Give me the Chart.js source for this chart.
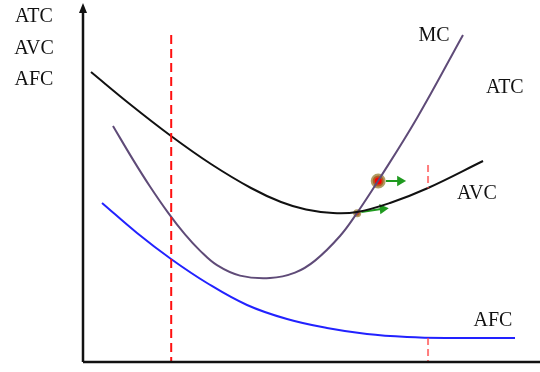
<!DOCTYPE html>
<html>
<head>
<meta charset="utf-8">
<script src="https://cdn.jsdelivr.net/npm/chart.js@4"></script>
<style>
  body { margin: 0; background: #fff; }
</style>
</head>
<body>
<canvas id="cost-chart" width="540" height="372"></canvas>
<script>
// curve data (quantity on x, cost on y, both 0..100)
const atcX = [1.75, 10.5, 19.26, 28.0, 36.76, 43.33, 48.8, 54.7, 59.96, 67.18, 75.49, 87.53];
const atcY = [81.23, 71.99, 63.31, 55.46, 48.74, 44.82, 42.72, 41.74, 42.02, 44.54, 48.74, 56.3];

const mcX = [6.56, 10.94, 14.66, 18.6, 22.32, 25.6, 29.32, 34.35, 40.92, 46.39, 50.77, 56.24, 59.96, 64.55, 73.09, 83.15];
const mcY = [66.11, 56.69, 49.16, 41.85, 35.74, 31.2, 27.11, 24.2, 23.53, 25.04, 28.4, 35.29, 41.74, 50.7, 68.35, 91.6];

const afcX = [4.16, 11.82, 19.26, 27.13, 35.89, 44.64, 53.39, 62.14, 70.9, 79.65, 94.53];
const afcY = [44.54, 36.13, 28.85, 22.13, 15.97, 12.04, 9.52, 7.84, 7.0, 6.72, 6.72];

// dashed quantity markers
const leftMarkX = 19.3;
const leftMarkTop = 91.6;
const rightMarkX = 75.5;
const rightMarkY = [55.2, 48.7, null, 6.7, 0];

// highlighted points and arrows
const dotX = [64.6, 60.0];
const dotY = [50.7, 41.7];
const arrowFromX = [66.3, 60.9];
const arrowToX = [69.4, 65.6];
const arrowFromY = [50.7, 42.0];
const arrowToY = [50.7, 42.9];

const axisLabels = ['ATC', 'AVC', 'AFC'];
const curveLabels = ['MC', 'ATC', 'AVC', 'AFC'];
const curveLabelX = [76.8, 92.3, 86.2, 89.7];
const curveLabelY = [91.3, 76.8, 47.1, 11.6];

function pts(xs, ys) {
    return xs.map((x, i) => ({ x: x, y: ys[i] }));
}

const curveStyle = { borderWidth: 2, pointRadius: 0, tension: 0.4, fill: false };

const datasets = [
    {
        data: [{ x: leftMarkX, y: leftMarkTop }, { x: leftMarkX, y: 0 }],
        borderColor: '#ff1010', borderWidth: 2, borderDash: [9, 5], pointRadius: 0
    },
    {
        data: rightMarkY.map(y => ({ x: rightMarkX, y: y })),
        borderColor: 'rgba(255,70,70,0.7)', borderWidth: 2, borderDash: [7, 4], pointRadius: 0, spanGaps: false
    },
    Object.assign({ data: pts(afcX, afcY), borderColor: '#2222ff' }, curveStyle),
    Object.assign({ data: pts(atcX, atcY), borderColor: '#111111' }, curveStyle),
    Object.assign({ data: pts(mcX, mcY), borderColor: '#5f4b78' }, curveStyle)
];

arrowFromX.forEach((x, i) => {
    datasets.push({
        data: [{ x: x, y: arrowFromY[i] }, { x: arrowToX[i], y: arrowToY[i] }],
        borderColor: '#1f9a1f', backgroundColor: '#1f9a1f', borderWidth: 2,
        pointRadius: [0, 4], pointStyle: 'triangle', rotation: i === 0 ? 90 : 84
    });
});

datasets.push({
    data: pts(dotX, dotY),
    showLine: false,
    pointRadius: [5.5, 2.5],
    pointBorderWidth: [4, 3],
    pointBackgroundColor: '#ff0000',
    pointBorderColor: 'rgba(150,125,50,0.75)'
});

const decorations = {
    id: 'decorations',
    afterDraw(chart) {
        const ctx = chart.ctx;
        const a = chart.chartArea;
        const xs = chart.scales.x, ys = chart.scales.y;
        ctx.save();
        ctx.strokeStyle = '#111';
        ctx.fillStyle = '#111';
        ctx.lineWidth = 2.5;
        ctx.beginPath();
        ctx.moveTo(a.left, a.bottom);
        ctx.lineTo(a.left, a.top + 6);
        ctx.moveTo(a.left, a.bottom);
        ctx.lineTo(a.right, a.bottom);
        ctx.stroke();
        ctx.beginPath();
        ctx.moveTo(a.left, a.top - 2);
        ctx.lineTo(a.left - 4, a.top + 8);
        ctx.lineTo(a.left + 4, a.top + 8);
        ctx.closePath();
        ctx.fill();

        ctx.font = '20px "Liberation Serif", serif';
        ctx.textAlign = 'center';
        ctx.textBaseline = 'middle';
        axisLabels.forEach((t, i) => {
            ctx.fillText(t, a.left - 49, a.top + 12 + i * 31.5);
        });
        curveLabels.forEach((t, i) => {
            ctx.fillText(t, xs.getPixelForValue(curveLabelX[i]), ys.getPixelForValue(curveLabelY[i]));
        });
        ctx.restore();
    }
};

new Chart(document.getElementById('cost-chart').getContext('2d'), {
    type: 'line',
    data: { datasets: datasets },
    options: {
        responsive: false,
        animation: false,
        layout: { autoPadding: false, padding: { left: 83, right: 0, top: 5, bottom: 10 } },
        plugins: { legend: { display: false }, tooltip: { enabled: false } },
        scales: {
            x: { type: 'linear', min: 0, max: 100, display: false },
            y: { type: 'linear', min: 0, max: 100, display: false }
        },
        datasets: { line: { clip: false } }
    },
    plugins: [decorations]
});
</script>
</body>
</html>
